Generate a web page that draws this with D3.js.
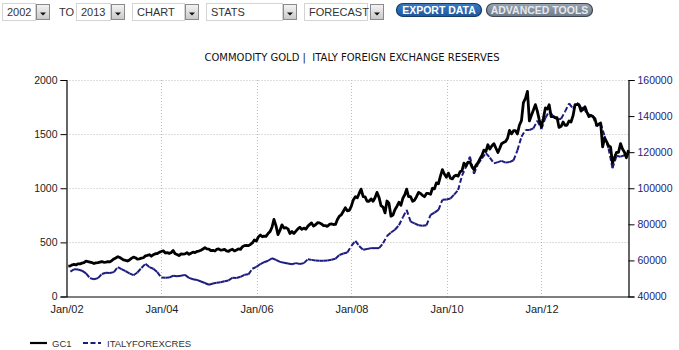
<!DOCTYPE html>
<html>
<head>
<meta charset="utf-8">
<script src="https://cdn.jsdelivr.net/npm/d3@7/dist/d3.min.js"></script>
<style>
  html, body { margin: 0; padding: 0; background: #fff; }
  svg { display: block; }
  .title { white-space: pre; }
</style>
</head>
<body>
<svg id="chart" width="679" height="350"></svg>
<script>
// Gold (GC1), two readings per month: mid-month and month-end, Jan 2002 - Oct 2013
const goldHalfMonthly = [
  [281,283],[293,296],[292,302],[301,308],[312,326],[322,318],[314,305],[311,313],[318,323],[316,318],[322,319],[332,347],
  [356,368],[360,350],[338,334],[328,338],[352,364],[358,346],[348,354],[358,375],[380,386],[372,386],[395,397],[408,416],
  [422,402],[406,398],[405,425],[395,388],[378,393],[392,394],[405,390],[400,410],[405,416],[420,428],[438,452],[440,438],
  [424,427],[420,435],[440,428],[430,435],[421,416],[430,437],[421,430],[440,436],[460,470],[471,470],[481,495],[522,512],
  [550,568],[552,558],[555,582],[600,640],[712,652],[572,610],[662,632],[636,625],[582,600],[582,604],[625,640],[620,632],
  [622,650],[666,680],[650,663],[682,680],[670,655],[655,648],[666,670],[665,666],[712,742],[755,788],[820,792],[796,835],
  [892,922],[912,952],[992,922],[920,880],[880,902],[880,912],[962,915],[840,826],[772,882],[862,742],[752,802],[832,870],
  [842,910],[942,992],[922,922],[880,890],[922,962],[952,935],[922,952],[952,945],[1000,995],[1050,1042],[1112,1172],[1132,1102],
  [1140,1092],[1086,1110],[1120,1112],[1152,1162],[1232,1205],[1242,1242],[1200,1172],[1212,1236],[1272,1302],[1352,1340],[1402,1362],[1390,1412],
  [1372,1330],[1372,1412],[1422,1432],[1462,1535],[1502,1532],[1532,1502],[1582,1625],[1792,1830],[1895,1622],[1672,1722],[1772,1712],[1632,1568],
  [1642,1742],[1732,1772],[1662,1662],[1652,1652],[1562,1572],[1612,1582],[1582,1622],[1612,1672],[1772,1772],[1772,1712],[1732,1752],[1702,1662],
  [1672,1662],[1642,1582],[1592,1602],[1382,1462],[1432,1392],[1382,1232],[1282,1332],[1332,1412],[1362,1332],[1282,1352]
];

// Italy foreign exchange reserves (EUR million), month-end, Jan 2002 - Oct 2013
const italyReserves = [
  53800, 55100, 55000, 54300, 52800, 50200, 49600, 50200, 52500, 53200, 53000, 53500,
  56300, 55200, 54100, 52800, 51800, 53300, 55800, 58100, 56300, 55400, 53500, 50500,
  50400, 50500, 51500, 51200, 51500, 52000, 50300, 49600, 49200, 48300, 47500, 46500,
  47200, 47600, 47900, 48500, 48900, 50400, 50300, 50900, 52000, 52300, 55400, 56400,
  58000, 59000, 59800, 61200, 60300, 59200, 58700, 58300, 57900, 58500, 58000, 58500,
  60700, 60300, 59900, 59800, 59800, 60000, 60400, 60900, 63000, 63800, 64400, 68000,
  70800, 68000, 65900, 66300, 66800, 66800, 66800, 69500, 73500, 75500, 77000, 79500,
  84000, 88000, 81500, 80500, 79500, 79200, 79500, 85200, 86500, 88000, 93600, 93800,
  94300, 96500, 99000, 107000, 112000, 117500, 108000, 113500, 116500, 119500, 117000, 113800,
  114500, 115200, 114200, 114500, 115500, 121000, 128500, 132300, 132300, 133200, 137500, 132800,
  139000, 142500, 140200, 138000, 138500, 142500, 147000, 144000, 147500, 145000, 143000, 141000,
  139800, 134300, 136000, 129000, 122000, 111100, 118000, 117500, 118300, 118500
];

const startYear = 2002;
const leftTicks = [0, 500, 1000, 1500, 2000];
const rightTicks = [40000, 60000, 80000, 100000, 120000, 140000, 160000];
const titleText = "COMMODITY GOLD |  ITALY FOREIGN EXCHANGE RESERVES";
const seriesNames = ["GC1", "ITALYFOREXCRES"];
const controlLabels = { from: "2002", to: "2013", chart: "CHART", stats: "STATS", forecast: "FORECAST" };

// Build dated records
const gold = [];
goldHalfMonthly.forEach((pair, m) => {
  gold.push({ date: new Date(startYear, m, 15), value: pair[0] });
  gold.push({ date: new Date(startYear, m + 1, 0), value: pair[1] });
});
const reserves = italyReserves.map((v, m) => ({ date: new Date(startYear, m + 1, 0), value: v }));

const svg = d3.select("#chart");
const W = 679, H = 350;
const margin = { left: 66.5, right: W - 628.5, top: 80, bottom: H - 296.5 };

const x = d3.scaleTime()
  .domain([new Date(startYear, 0, 1), d3.max(reserves, d => d.date)])
  .range([margin.left, W - margin.right]);
const yL = d3.scaleLinear().domain([0, 2000]).range([H - margin.bottom, margin.top]);
const yR = d3.scaleLinear().domain([40000, 160000]).range([H - margin.bottom, margin.top]);

const FONT = "Liberation Sans, Arial, sans-serif";

// ---------- top controls ----------
const ctl = svg.append("g").attr("class", "controls");
const defs = svg.append("defs");
function grad(id, c0, c1) {
  const g = defs.append("linearGradient").attr("id", id).attr("x1", 0).attr("y1", 0).attr("x2", 0).attr("y2", 1);
  g.append("stop").attr("offset", "0%").attr("stop-color", c0);
  g.append("stop").attr("offset", "100%").attr("stop-color", c1);
}
grad("btnGrad", "#f4f4f4", "#c8c8c8");
grad("blueGrad", "#3a7cc4", "#1d569c");
grad("grayGrad", "#98a4b0", "#6e7c8a");

function selectBox(x0, boxW, label, btnX) {
  ctl.append("rect").attr("x", x0 + 0.5).attr("y", 3.5).attr("width", boxW).attr("height", 17)
    .attr("fill", "#fff").attr("stroke", "#d4d4d4");
  ctl.append("text").attr("x", x0 + 5).attr("y", 16).attr("font-family", FONT).attr("font-size", 11)
    .attr("fill", "#333").text(label);
  ctl.append("rect").attr("x", btnX + 0.5).attr("y", 4.5).attr("width", 13).attr("height", 15)
    .attr("fill", "url(#btnGrad)").attr("stroke", "#8a8a8a");
  const cx = btnX + 7;
  ctl.append("path").attr("d", `M${cx - 3},12.5 L${cx + 3},12.5 L${cx},15.5 Z`).attr("fill", "#111");
}
selectBox(2, 33, controlLabels.from, 36);
ctl.append("text").attr("x", 59).attr("y", 16).attr("font-family", FONT).attr("font-size", 11)
  .attr("fill", "#333").text("TO");
selectBox(76, 34, controlLabels.to, 111);
selectBox(132, 52, controlLabels.chart, 185);
selectBox(206, 76, controlLabels.stats, 283);
selectBox(304, 63, controlLabels.forecast, 370);

function pill(x0, w, fill, stroke, textFill, label) {
  ctl.append("rect").attr("x", x0 + 0.5).attr("y", 3.5).attr("width", w).attr("height", 13)
    .attr("rx", 6.5).attr("ry", 6.5).attr("fill", fill).attr("stroke", stroke).attr("stroke-width", 1.2);
  ctl.append("text").attr("x", x0 + w / 2 + 0.5).attr("y", 14).attr("text-anchor", "middle")
    .attr("font-family", FONT).attr("font-size", 10.5).attr("font-weight", "bold")
    .attr("fill", textFill).text(label);
}
pill(396, 85, "url(#blueGrad)", "#143a6c", "#ffffff", "EXPORT DATA");
pill(486, 106, "url(#grayGrad)", "#3c4752", "#e6e9ee", "ADVANCED TOOLS");

// ---------- title ----------
svg.append("text").attr("class", "title").attr("x", 352).attr("y", 61).attr("text-anchor", "middle")
  .attr("font-family", "DejaVu Sans, Verdana, sans-serif").attr("font-size", 10)
  .attr("fill", "#111").text(titleText);

// ---------- grid ----------
const xTicks = x.ticks(d3.timeYear.every(2));
const grid = svg.append("g").attr("class", "grid")
  .attr("stroke", "#bdbdbd").attr("stroke-dasharray", "1,2").attr("stroke-width", 1);
grid.selectAll("line.h").data(leftTicks.filter(t => t > 0)).join("line").attr("class", "h")
  .attr("x1", margin.left).attr("x2", W - margin.right)
  .attr("y1", d => Math.round(yL(d)) + 0.5).attr("y2", d => Math.round(yL(d)) + 0.5);
grid.selectAll("line.v").data(xTicks.filter(t => t > x.domain()[0])).join("line").attr("class", "v")
  .attr("x1", d => Math.round(x(d)) + 0.5).attr("x2", d => Math.round(x(d)) + 0.5)
  .attr("y1", margin.top).attr("y2", H - margin.bottom);

// ---------- series ----------
// Reserves: each monthly step carries its own dash pattern
const seg = [];
for (let i = 1; i < reserves.length; i++) seg.push([reserves[i - 1], reserves[i]]);
svg.append("g").attr("class", "reserves")
  .selectAll("line").data(seg).join("line")
  .attr("x1", d => x(d[0].date)).attr("y1", d => yR(d[0].value))
  .attr("x2", d => x(d[1].date)).attr("y2", d => yR(d[1].value))
  .attr("stroke", "#1c1c80").attr("stroke-width", 2).attr("stroke-dasharray", "5,2.5")
  .attr("stroke-linecap", "butt");

svg.append("path").datum(gold)
  .attr("fill", "none").attr("stroke", "#000").attr("stroke-width", 2.8)
  .attr("stroke-linejoin", "round")
  .attr("d", d3.line().x(d => x(d.date)).y(d => yL(d.value)));

// ---------- axes ----------
const axL = svg.append("g").attr("transform", `translate(${margin.left},0)`)
  .call(d3.axisLeft(yL).tickValues(leftTicks).tickSize(6).tickPadding(3).tickFormat(d3.format("d")));
const axR = svg.append("g").attr("transform", `translate(${W - margin.right},0)`)
  .call(d3.axisRight(yR).tickValues(rightTicks).tickSize(6).tickPadding(3).tickFormat(d3.format("d")));
const axB = svg.append("g").attr("transform", `translate(0,${H - margin.bottom})`)
  .call(d3.axisBottom(x).ticks(d3.timeYear.every(2)).tickSize(0).tickPadding(9)
    .tickFormat(d3.timeFormat("%b/%y")));

[axL, axR, axB].forEach(a => {
  a.select(".domain").attr("stroke", "#000").attr("stroke-width", 1.2);
  a.selectAll(".tick line").attr("stroke", "#000");
  a.selectAll("text").attr("font-family", FONT).attr("font-size", 10.5);
});
axL.selectAll("text").attr("fill", "#222");
axR.selectAll("text").attr("fill", "#23237a");
axB.selectAll("text").attr("fill", "#222").attr("font-size", 11);

// ---------- legend ----------
const lg = svg.append("g").attr("class", "legend");
lg.append("line").attr("x1", 30).attr("x2", 47).attr("y1", 343).attr("y2", 343)
  .attr("stroke", "#000").attr("stroke-width", 2.2);
lg.append("text").attr("x", 52).attr("y", 346.5).attr("font-family", FONT).attr("font-size", 9.5)
  .attr("fill", "#333").text(seriesNames[0]);
lg.append("line").attr("x1", 83).attr("x2", 101).attr("y1", 343).attr("y2", 343)
  .attr("stroke", "#1c1c80").attr("stroke-width", 2.2).attr("stroke-dasharray", "5,2.5");
lg.append("text").attr("x", 107).attr("y", 346.5).attr("font-family", FONT).attr("font-size", 9.5)
  .attr("fill", "#333").text(seriesNames[1]);
</script>
</body>
</html>
